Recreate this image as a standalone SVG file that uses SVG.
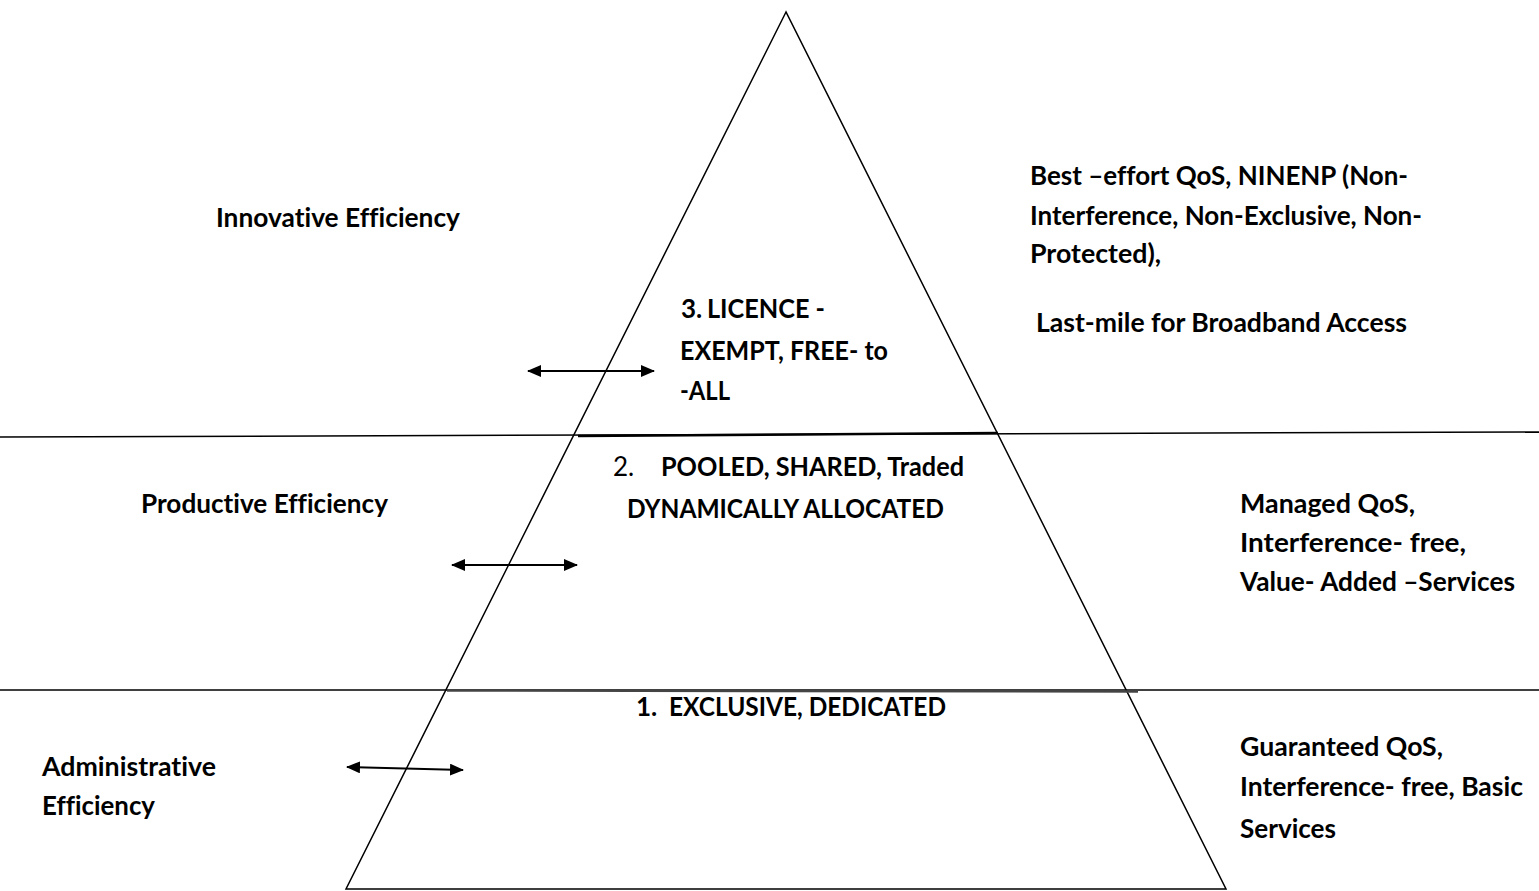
<svg xmlns="http://www.w3.org/2000/svg" width="1539" height="891" viewBox="0 0 1539 891">
<style>
text{font-family:Lato,"Open Sans","Liberation Sans",sans-serif;font-size:26px;font-weight:bold;fill:#000;font-variant-ligatures:none}
.r{font-weight:normal}
.ln{stroke:#000;stroke-width:1.5;fill:none}
.ar{stroke:#000;stroke-width:2;fill:none;marker-start:url(#ah);marker-end:url(#ah)}
</style>
<defs>
<marker id="ah" viewBox="0 0 14 12" refX="13" refY="6" markerWidth="14" markerHeight="12" markerUnits="userSpaceOnUse" orient="auto-start-reverse">
<path d="M0,0 L14,6 L0,12 z" fill="#000"/>
</marker>
</defs>
<rect width="1539" height="891" fill="#fff"/>
<g id="pyramid">
<polygon class="ln" points="786,12 346,889 1226,889"/>
</g>
<g id="dividers">
<line class="ln" x1="0" y1="437" x2="1539" y2="432"/>
<line x1="578" y1="436" x2="998" y2="433" stroke="#000" stroke-width="2.5"/>
<line class="ln" x1="0" y1="690" x2="1539" y2="690"/>
<line x1="447" y1="690.5" x2="1138" y2="691.5" stroke="#444" stroke-width="2.5"/>
</g>
<g id="connectors">
<line class="ar" x1="528" y1="371" x2="654" y2="371"/>
<line class="ar" x1="452" y1="565" x2="577" y2="565"/>
<line class="ar" x1="347" y1="767" x2="463" y2="770"/>
</g>
<g id="tier3">
<text x="681" y="318">3.</text>
<text x="707" y="318" textLength="118" lengthAdjust="spacingAndGlyphs">LICENCE -</text>
<text x="680" y="360" textLength="208" lengthAdjust="spacingAndGlyphs">EXEMPT, FREE- to</text>
<text x="680" y="400" textLength="50" lengthAdjust="spacingAndGlyphs">-ALL</text>
</g>
<g id="tier2">
<text class="r" x="613" y="476">2.</text>
<text x="661" y="476" textLength="303" lengthAdjust="spacingAndGlyphs">POOLED, SHARED, Traded</text>
<text x="627" y="518" textLength="317" lengthAdjust="spacingAndGlyphs">DYNAMICALLY ALLOCATED</text>
</g>
<g id="tier1">
<text x="636" y="716">1.</text>
<text x="669" y="716" textLength="277" lengthAdjust="spacingAndGlyphs">EXCLUSIVE, DEDICATED</text>
</g>
<g id="left-labels">
<text x="216" y="227" textLength="244" lengthAdjust="spacingAndGlyphs">Innovative Efficiency</text>
<text x="141" y="513" textLength="247" lengthAdjust="spacingAndGlyphs">Productive Efficiency</text>
<text x="42" y="776" textLength="174" lengthAdjust="spacingAndGlyphs">Administrative</text>
<text x="42" y="815" textLength="113" lengthAdjust="spacingAndGlyphs">Efficiency</text>
</g>
<g id="right-labels">
<text x="1030" y="185" textLength="378" lengthAdjust="spacingAndGlyphs">Best –effort QoS, NINENP (Non-</text>
<text x="1030" y="225" textLength="392" lengthAdjust="spacingAndGlyphs">Interference, Non-Exclusive, Non-</text>
<text x="1030" y="263" textLength="131" lengthAdjust="spacingAndGlyphs">Protected),</text>
<text x="1036" y="332" textLength="371" lengthAdjust="spacingAndGlyphs">Last-mile for Broadband Access</text>
<text x="1240" y="513" textLength="175" lengthAdjust="spacingAndGlyphs">Managed QoS,</text>
<text x="1240" y="552" textLength="226" lengthAdjust="spacingAndGlyphs">Interference- free,</text>
<text x="1240" y="591" textLength="275" lengthAdjust="spacingAndGlyphs">Value- Added –Services</text>
<text x="1240" y="756" textLength="203" lengthAdjust="spacingAndGlyphs">Guaranteed QoS,</text>
<text x="1240" y="796" textLength="283" lengthAdjust="spacingAndGlyphs">Interference- free, Basic</text>
<text x="1240" y="838" textLength="96" lengthAdjust="spacingAndGlyphs">Services</text>
</g>
</svg>
